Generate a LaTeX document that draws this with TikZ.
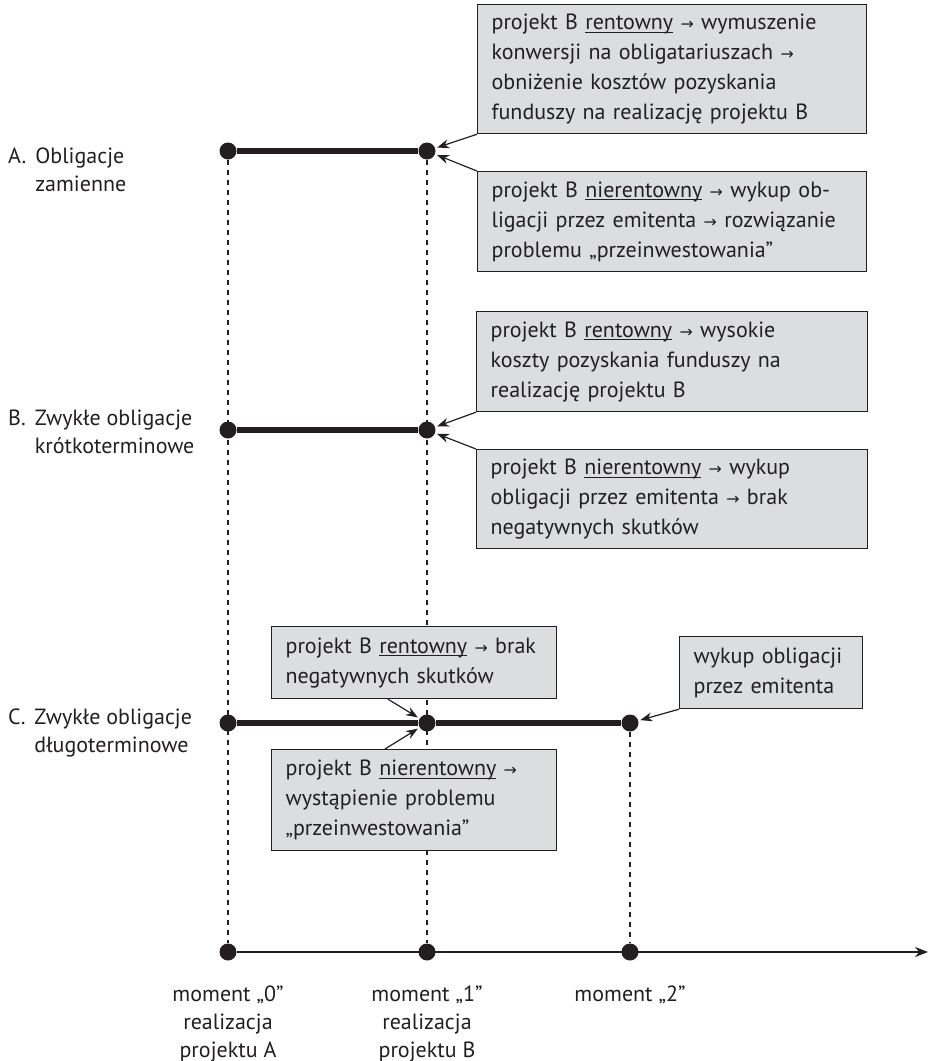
\documentclass[tikz,border=0pt]{standalone}
\usepackage{fontspec}
\setmainfont{PT Sans}
\newfontfamily\arrfont[Scale=0.72]{DejaVu Sans}
\usetikzlibrary{arrows.meta,calc}
\definecolor{ink}{HTML}{231F20}
\definecolor{boxgray}{HTML}{DCDDDF}
\newlength\undlw
\newcommand\undl[1]{\settowidth\undlw{#1}\rlap{\color{ink}\rule[-3.2pt]{\undlw}{1.2pt}}#1}
\newcommand\arr{{\arrfont →}}
\newcommand\boxfont{\fontsize{22}{30}\selectfont}
\begin{document}
\begin{tikzpicture}[x=1pt,y=-1pt,
  dot/.style={circle,fill=ink,inner sep=0pt,minimum size=17pt},
  period/.style={line width=6pt,draw=ink},
  guide/.style={line width=1.2pt,draw=ink,dash pattern=on 5pt off 5pt},
  axisline/.style={line width=1.4pt,draw=ink,-{Stealth[length=13pt,width=10pt]}},
  pointer/.style={line width=1.2pt,draw=ink,-{Stealth[length=12pt,width=9pt]},shorten >=2pt},
  infobox/.style={draw=ink,fill=boxgray,line width=1.2pt,anchor=north west,
    inner xsep=14pt,inner ysep=4pt,align=left,text=ink,font=\boxfont},
  lbl/.style={text=ink,inner sep=0pt,font=\fontsize{22}{28}\selectfont}]
\useasboundingbox (0,0) rectangle (930,1061);

% points on the time lines
\node[dot] (a0) at (228,151) {};
\node[dot] (a1) at (427,151) {};
\node[dot] (b0) at (228,430) {};
\node[dot] (b1) at (427,430) {};
\node[dot] (c0) at (228,723) {};
\node[dot] (c1) at (427,723) {};
\node[dot] (c2) at (630,723) {};
\node[dot] (t0) at (228,952) {};
\node[dot] (t1) at (427,952) {};
\node[dot] (t2) at (630,952) {};
\coordinate (tend) at (928,952);

% dashed guides down to the time axis
\draw[guide] (a0) -- (t0);
\draw[guide] (a1) -- (t1);
\draw[guide] (c2) -- (t2);

% bond periods
\draw[period] (a0) -- (a1);
\draw[period] (b0) -- (b1);
\draw[period] (c0) -- (c1);
\draw[period] (c1) -- (c2);

% time axis
\draw[axisline] (t0) -- (tend);

% left labels
\node[lbl,anchor=base west] (la) at (8,163)
  {\begin{tabular}[t]{@{}l@{\hspace{9pt}}l@{}}A. & Obligacje\\ & zamienne\end{tabular}};
\node[lbl,anchor=base west] (lb) at (8,425)
  {\begin{tabular}[t]{@{}l@{\hspace{9pt}}l@{}}B. & Zwykłe obligacje\\ & krótkoterminowe\end{tabular}};
\node[lbl,anchor=base west] (lc) at (8,724)
  {\begin{tabular}[t]{@{}l@{\hspace{9pt}}l@{}}C. & Zwykłe obligacje\\ & długoterminowe\end{tabular}};

% moments on the axis
\node[lbl,anchor=base] (m0) at (228,1001)
  {\begin{tabular}[t]{@{}c@{}}moment „0”\\realizacja\\projektu A\end{tabular}};
\node[lbl,anchor=base] (m1) at (427,1001)
  {\begin{tabular}[t]{@{}c@{}}moment „1”\\realizacja\\projektu B\end{tabular}};
\node[lbl,anchor=base] (m2) at (630,1001) {moment „2”};

% outcome boxes (each line kept whole)
\node[infobox,text width=361pt,minimum height=129pt] (A1) at (477,4)
  {\mbox{projekt B \undl{rentowny} \arr{} wymuszenie}\\
   \mbox{konwersji na obligatariuszach \arr}\\
   \mbox{obniżenie kosztów pozyskania}\\
   \mbox{funduszy na realizację projektu B}};
\node[infobox,text width=361pt,minimum height=100pt] (A2) at (477,171)
  {\mbox{projekt B \undl{nierentowny} \arr{} wykup ob-}\\
   \mbox{ligacji przez emitenta \arr{} rozwiązanie}\\
   \mbox{problemu „przeinwestowania”}};
\node[infobox,text width=363pt,minimum height=100pt] (B1) at (476,311)
  {\mbox{projekt B \undl{rentowny} \arr{} wysokie}\\
   \mbox{koszty pozyskania funduszy na}\\
   \mbox{realizację projektu B}};
\node[infobox,text width=363pt,minimum height=99pt] (B2) at (476,449)
  {\mbox{projekt B \undl{nierentowny} \arr{} wykup}\\
   \mbox{obligacji przez emitenta \arr{} brak}\\
   \mbox{negatywnych skutków}};
\node[infobox,text width=257pt,minimum height=72pt] (C1) at (271,626)
  {\mbox{projekt B \undl{rentowny} \arr{} brak}\\
   \mbox{negatywnych skutków}};
\node[infobox,text width=257pt,minimum height=101pt] (C2) at (271,749)
  {\mbox{projekt B \undl{nierentowny} \arr}\\
   \mbox{wystąpienie problemu}\\
   \mbox{„przeinwestowania”}};
\node[infobox,text width=155pt,minimum height=72pt] (C3) at (679,636)
  {\mbox{wykup obligacji}\\
   \mbox{przez emitenta}};

% pointers from the boxes to the moments
\draw[pointer] (A1.south west) -- (a1);
\draw[pointer] (A2.north west) -- (a1);
\draw[pointer] (B1.south west) -- (b1);
\draw[pointer] (B2.north west) -- (b1);
\draw[pointer] ($(C1.south west)+(117,0)$) -- (c1);
\draw[pointer] ($(C2.north west)+(114,0)$) -- (c1);
\draw[pointer] (C3.south west) -- (c2);
\end{tikzpicture}
\end{document}
